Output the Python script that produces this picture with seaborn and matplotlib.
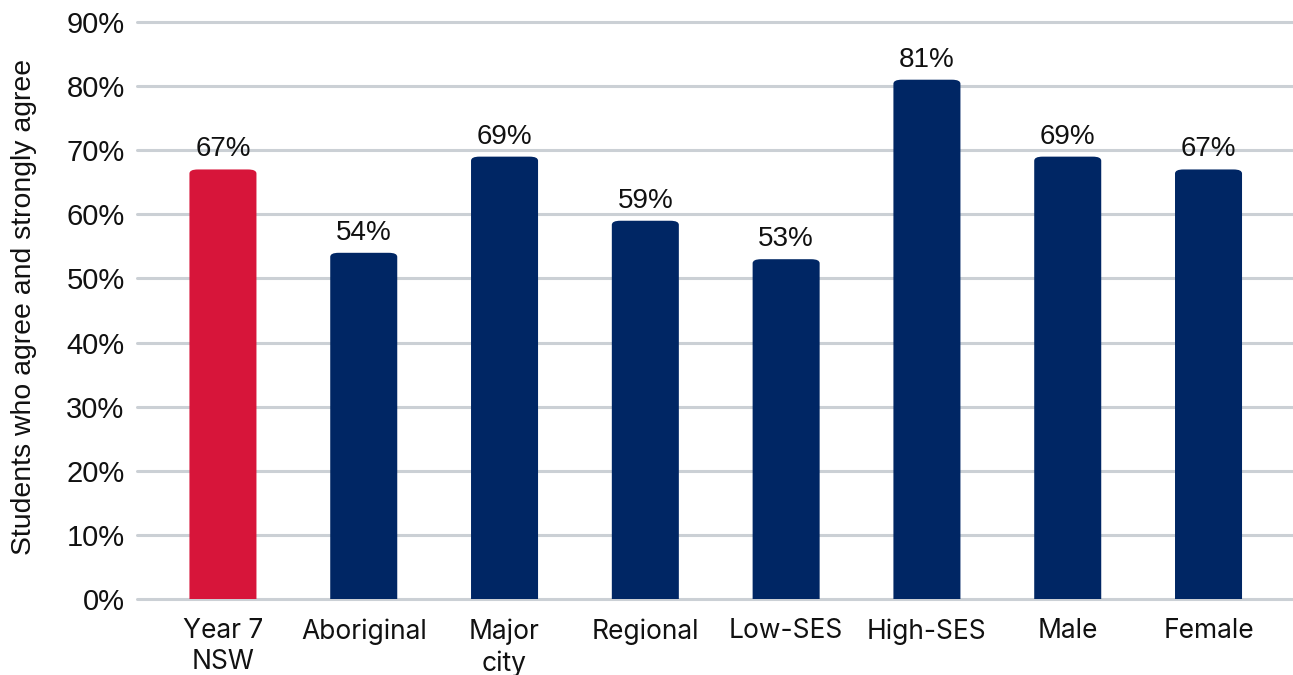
import matplotlib
matplotlib.use("Agg")
import matplotlib.pyplot as plt
from matplotlib.patches import FancyBboxPatch
import seaborn as sns
import pandas as pd

categories = ["Year 7\nNSW", "Aboriginal", "Major\ncity", "Regional", "Low-SES",
              "High-SES", "Male", "Female"]
values = [67, 54, 69, 59, 53, 81, 69, 67]
yticks = [0, 10, 20, 30, 40, 50, 60, 70, 80, 90]

RED = "#D7153A"
NAVY = "#002664"
GRID = "#CBD0D5"
colors = [RED] + [NAVY] * (len(categories) - 1)

sns.set_theme(style="white")
plt.rcParams["font.family"] = ["Liberation Sans", "DejaVu Sans"]

df = pd.DataFrame({"group": categories, "value": values})

fig = plt.figure(figsize=(12.93, 6.75), dpi=100)
ax = fig.add_axes([0.106, 0.1126, 0.894, 0.9769 - 0.1126])

sns.barplot(data=df, x="group", y="value", hue="group", palette=colors,
            saturation=1, width=0.476, legend=False, ax=ax, zorder=3)

ax.set_ylim(0, 91)
ax.set_xlim(-0.61, 7.6)

# Swap plain rectangles for bars with softly rounded top corners
for patch in list(ax.patches):
    x, w, h = patch.get_x(), patch.get_width(), patch.get_height()
    fc = patch.get_facecolor()
    patch.remove()
    r = 0.06
    rounded = FancyBboxPatch((x, -3), w, h + 3,
                             boxstyle=f"round,pad=0,rounding_size={r}",
                             mutation_aspect=10.5,
                             facecolor=fc, edgecolor="none", zorder=3,
                             clip_on=True)
    ax.add_patch(rounded)

for i, v in enumerate(values):
    ax.text(i, v + 1.1, f"{v}%", ha="center", va="bottom", fontsize=20,
            color="#111111", zorder=4)

ax.set_yticks(yticks)
ax.set_yticklabels([f"{t}%" for t in yticks], fontsize=21, color="#111111")
ax.set_xticks(range(len(categories)))
ax.set_xticklabels(categories, fontsize=19, color="#111111",
                   family=["Inter", "DejaVu Sans"], linespacing=1.25)
ax.tick_params(axis="both", length=0)
ax.tick_params(axis="x", pad=14)
ax.tick_params(axis="y", pad=9)

for t in yticks:
    ax.axhline(t, color=GRID, linewidth=2.2, zorder=1 if t else 2,
               clip_on=False)

for s in ax.spines.values():
    s.set_visible(False)

ax.set_xlabel("")
ax.set_ylabel("Students who agree and strongly agree", fontsize=20.4,
              color="#111111", labelpad=21)

fig.savefig("out.png", dpi=100)
